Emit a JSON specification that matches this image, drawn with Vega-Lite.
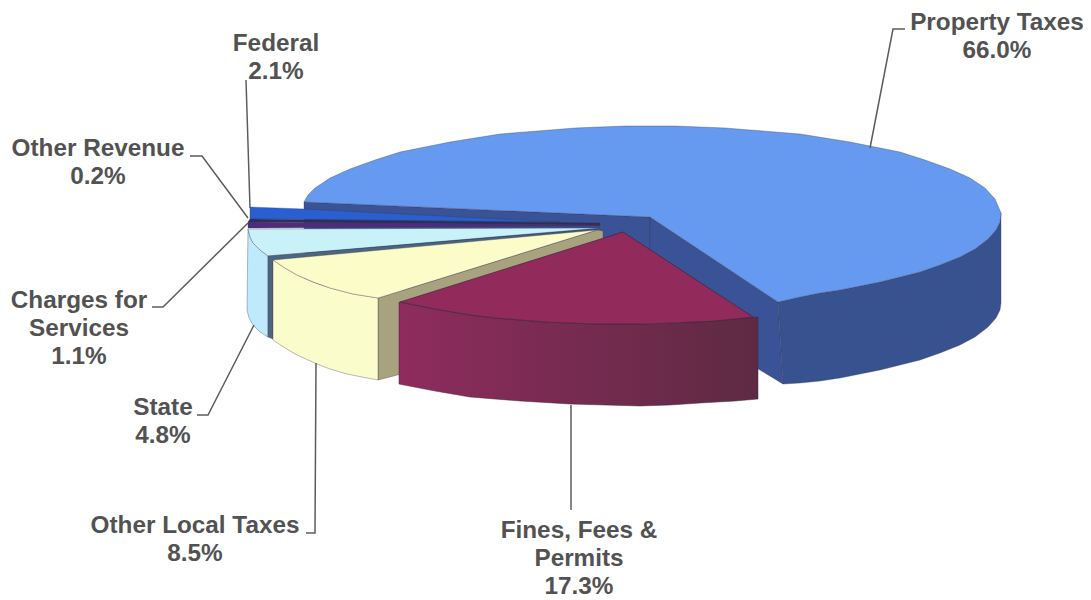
{
  "$schema": "https://vega.github.io/schema/vega-lite/v6.json",
  "width": 1091,
  "height": 600,
  "padding": 0,
  "autosize": {"type": "fit", "contains": "padding"},
  "background": "#ffffff",
  "view": {"stroke": null},
  "projection": {"type": "identity", "scale": 1, "translate": [0, 0]},
  "datasets": {
    "backFaces": [
      {"type": "Feature", "properties": {"part": "Property inner wall"}, "geometry": {"type": "Polygon", "coordinates": [[[304,202],[650,217],[650,303],[304,285],[304,202]]]}},
      {"type": "Feature", "properties": {"part": "Property inner wall"}, "geometry": {"type": "Polygon", "coordinates": [[[650,217],[778,302],[783,384],[650,303],[650,217]]]}},
      {"type": "Feature", "properties": {"part": "Property outer wall"}, "geometry": {"type": "Polygon", "coordinates": [[[778,302],[800,297],[820,293],[840,290],[860,286],[880,282],[900,277],[920,272],[940,265],[960,257],[975,249],[988,239],[996,230],[1000,222],[1001,213],[1001,303],[1000,310],[996,318],[988,327],[975,337],[960,345],[940,353],[920,360],[900,365],[880,370],[860,374],[840,378],[820,381],[800,383],[783,384],[778,302]]]}},
      {"type": "Feature", "properties": {"part": "Property top"}, "geometry": {"type": "Polygon", "coordinates": [[[650,217],[778,302],[800,297],[820,293],[840,290],[860,286],[880,282],[900,277],[920,272],[940,265],[960,257],[975,249],[988,239],[996,230],[1000,222],[1001,213],[995,199],[985,188],[970,178],[950,169],[925,160],[900,152],[875,147],[850,142],[825,138],[800,134],[775,132],[750,130],[725,128],[700,127],[675,126],[650,126],[625,126],[600,127],[575,128],[550,130],[525,132],[500,134],[475,138],[450,142],[425,147],[400,152],[375,160],[350,169],[330,178],[315,188],[308,195],[304,202],[650,217]]]}},
      {"type": "Feature", "properties": {"part": "Federal top"}, "geometry": {"type": "Polygon", "coordinates": [[[250,207],[304,209],[560,222],[250,219],[250,207]]]}},
      {"type": "Feature", "properties": {"part": "Federal wall"}, "geometry": {"type": "Polygon", "coordinates": [[[250,219],[600,223],[600,225],[248,222],[250,219]]]}},
      {"type": "Feature", "properties": {"part": "Other revenue top"}, "geometry": {"type": "Polygon", "coordinates": [[[248,222],[600,225],[600,226],[248,228],[248,222]]]}},
      {"type": "Feature", "properties": {"part": "Charges wall"}, "geometry": {"type": "Polygon", "coordinates": [[[248,229],[250,237],[253,243],[260,250],[268,256],[268,337],[260,332],[253,325],[249,318],[247,310],[248,229]]]}},
      {"type": "Feature", "properties": {"part": "Charges top"}, "geometry": {"type": "Polygon", "coordinates": [[[248,229],[600,228],[268,256],[260,250],[253,243],[250,237],[248,229]]]}},
      {"type": "Feature", "properties": {"part": "Charges inner wall"}, "geometry": {"type": "Polygon", "coordinates": [[[268,256],[600,229],[603,232],[273,261],[273,339],[268,337],[268,256]]]}},
      {"type": "Feature", "properties": {"part": "Local inner wall"}, "geometry": {"type": "Polygon", "coordinates": [[[378,298],[597,230],[603,231],[603,322],[378,380],[378,298]]]}},
      {"type": "Feature", "properties": {"part": "Local wall"}, "geometry": {"type": "Polygon", "coordinates": [[[273,260],[285,268],[297,275],[313,282],[330,288],[353,294],[378,298],[378,380],[362,377],[347,374],[330,369],[317,364],[297,355],[285,348],[273,340],[273,260]]]}},
      {"type": "Feature", "properties": {"part": "Local top"}, "geometry": {"type": "Polygon", "coordinates": [[[273,260],[597,230],[378,298],[353,294],[330,288],[313,282],[297,275],[285,268],[273,260]]]}}
    ],
    "finesWall": [
      {"type": "Feature", "properties": {"part": "Fines wall"}, "geometry": {"type": "Polygon", "coordinates": [[[399,302],[435,309],[470,315],[495,318],[520,320],[545,322],[570,323],[595,324],[620,324],[645,324],[670,323],[695,322],[715,321],[735,319],[758,317],[758,399],[735,401],[700,403],[670,405],[640,406],[605,405],[570,404],[520,401],[470,397],[435,391],[399,384],[399,302]]]}}
    ],
    "finesTop": [
      {"type": "Feature", "properties": {"part": "Fines top"}, "geometry": {"type": "Polygon", "coordinates": [[[623,232],[753,317],[735,319],[715,321],[695,322],[670,323],[645,324],[620,324],[595,324],[570,323],[545,322],[520,320],[495,318],[470,315],[435,309],[400,302],[623,232]]]}}
    ],
    "leaders": [
      {"type": "Feature", "properties": {"source": "Property Taxes"}, "geometry": {"type": "LineString", "coordinates": [[870,148],[893,29],[905,29]]}},
      {"type": "Feature", "properties": {"source": "Federal"}, "geometry": {"type": "LineString", "coordinates": [[246,80],[250,208]]}},
      {"type": "Feature", "properties": {"source": "Other Revenue"}, "geometry": {"type": "LineString", "coordinates": [[190,156],[202,156],[248,218]]}},
      {"type": "Feature", "properties": {"source": "Charges for Services"}, "geometry": {"type": "LineString", "coordinates": [[152,307],[163,307],[248,223]]}},
      {"type": "Feature", "properties": {"source": "State"}, "geometry": {"type": "LineString", "coordinates": [[197,415],[208,415],[254,325]]}},
      {"type": "Feature", "properties": {"source": "Other Local Taxes"}, "geometry": {"type": "LineString", "coordinates": [[306,533],[315,533],[316,363]]}},
      {"type": "Feature", "properties": {"source": "Fines, Fees & Permits"}, "geometry": {"type": "LineString", "coordinates": [[571,405],[571,510]]}}
    ],
    "labels": [
      {"source": "Property Taxes", "share": 66.0, "text": "Property Taxes\n66.0%", "cx": 997, "cy": 23},
      {"source": "Federal", "share": 2.1, "text": "Federal\n2.1%", "cx": 276, "cy": 44},
      {"source": "Other Revenue", "share": 0.2, "text": "Other Revenue\n0.2%", "cx": 98, "cy": 149},
      {"source": "Charges for Services", "share": 1.1, "text": "Charges for\nServices\n1.1%", "cx": 79, "cy": 301},
      {"source": "State", "share": 4.8, "text": "State\n4.8%", "cx": 163, "cy": 408},
      {"source": "Other Local Taxes", "share": 8.5, "text": "Other Local Taxes\n8.5%", "cx": 195, "cy": 526},
      {"source": "Fines, Fees & Permits", "share": 17.3, "text": "Fines, Fees &\nPermits\n17.3%", "cx": 579, "cy": 531}
    ]
  },
  "layer": [
    {
      "data": {"name": "backFaces"},
      "mark": {"type": "geoshape", "stroke": "#3a3a4c", "strokeWidth": 0.5, "strokeOpacity": 0.7},
      "encoding": {
        "color": {
          "field": "properties.part",
          "type": "nominal",
          "legend": null,
          "scale": {
            "domain": ["Property inner wall","Property outer wall","Property top","Federal top","Federal wall","Other revenue top","Charges wall","Charges top","Charges inner wall","Local inner wall","Local wall","Local top"],
            "range": ["#3a5296","#38518f","#6699f0","#2a5fd2","#2b2f60","#4e2c7a","#bfeafb","#c8f1f8","#4d6680","#a8a27e","#fbfccb","#fbfcc8"]
          }
        }
      }
    },
    {
      "data": {"name": "finesWall"},
      "mark": {
        "type": "geoshape",
        "stroke": "#3a2a3c",
        "strokeWidth": 0.5,
        "fill": {
          "gradient": "linear",
          "x1": 0, "y1": 0, "x2": 1, "y2": 0,
          "stops": [
            {"offset": 0, "color": "#8e2c5e"},
            {"offset": 0.5, "color": "#762b50"},
            {"offset": 1, "color": "#5e2a43"}
          ]
        }
      },
      "encoding": {}
    },
    {
      "data": {"name": "finesTop"},
      "mark": {"type": "geoshape", "fill": "#922a5c", "stroke": "#3a2a3c", "strokeWidth": 0.7},
      "encoding": {}
    },
    {
      "data": {"name": "leaders"},
      "mark": {"type": "geoshape", "filled": false, "stroke": "#5c5c5c", "strokeWidth": 1.5},
      "encoding": {}
    },
    {
      "data": {"name": "labels"},
      "mark": {
        "type": "text",
        "font": "Liberation Sans",
        "fontWeight": "bold",
        "fontSize": 24.3,
        "lineBreak": "\n",
        "lineHeight": 28,
        "align": "center",
        "baseline": "middle",
        "fill": "#525252"
      },
      "encoding": {
        "longitude": {"field": "cx", "type": "quantitative"},
        "latitude": {"field": "cy", "type": "quantitative"},
        "text": {"field": "text", "type": "nominal"}
      }
    }
  ]
}
